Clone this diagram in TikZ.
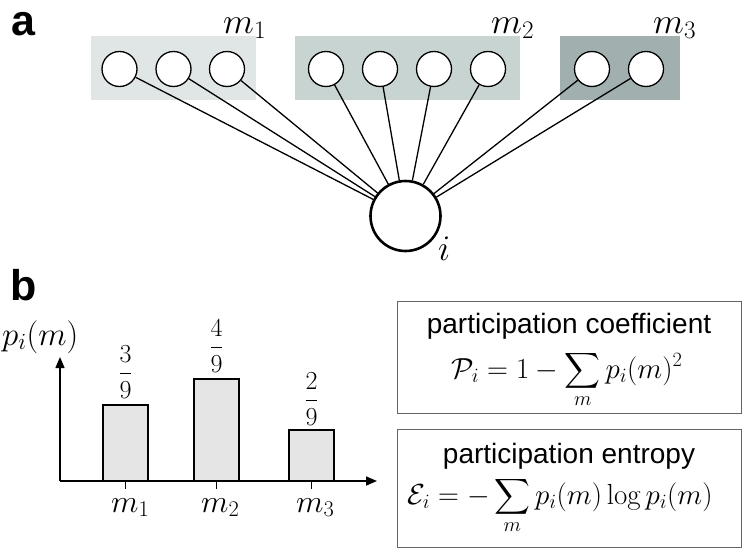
\RequirePackage{fix-cm}
\documentclass[tikz,border=0pt]{standalone}
\usepackage{amsmath}
\usepackage{fontspec}
\setsansfont{Liberation Sans}
\usetikzlibrary{arrows.meta}
\definecolor{modA}{RGB}{223,230,229}
\definecolor{modB}{RGB}{200,212,210}
\definecolor{modC}{RGB}{161,176,175}
\definecolor{barfill}{RGB}{229,229,229}
\definecolor{boxline}{RGB}{100,100,100}
\begin{document}
\begin{tikzpicture}[x=1pt,y=-1pt,
  unit/.style={circle,draw,fill=white,minimum size=35pt,inner sep=0pt,line width=1.3pt},
  hub/.style={circle,draw,fill=white,minimum size=70pt,inner sep=0pt,line width=2.6pt},
  link/.style={line width=1.3pt},
  panel/.style={font=\fontsize{43}{44}\selectfont\sffamily\bfseries,anchor=base west,inner sep=0pt},
  biglbl/.style={font=\fontsize{36}{40}\selectfont,anchor=base west,inner sep=0pt},
  smlbl/.style={font=\fontsize{32}{36}\selectfont,inner sep=0pt},
  fraclbl/.style={font=\fontsize{26}{30}\selectfont,inner sep=0pt},
  axis/.style={line width=1.5pt},
  barstyle/.style={draw,fill=barfill,line width=1.3pt},
  fbox/.style={draw=boxline,line width=1pt,minimum width=344pt,inner sep=0pt},
  ftitle/.style={font=\fontsize{28}{30}\selectfont\sffamily,anchor=base,inner sep=0pt},
  fformula/.style={font=\fontsize{29}{32}\selectfont,anchor=base,inner sep=0pt}]
\useasboundingbox (0,0) rectangle (746,549);
% ---------- panel a ----------
\node[panel] (pa) at (11,35) {a};
\node[fill=modA,minimum width=165pt,minimum height=64pt,inner sep=0pt] (boxA) at (173.5,68) {};
\node[fill=modB,minimum width=225pt,minimum height=64pt,inner sep=0pt] (boxB) at (407.5,68) {};
\node[fill=modC,minimum width=120pt,minimum height=64pt,inner sep=0pt] (boxC) at (620,68) {};
\node[biglbl] (lm1) at (223,33) {$m_1$};
\node[biglbl] (lm2) at (491,33) {$m_2$};
\node[biglbl] (lm3) at (653,33) {$m_3$};
\node[unit] (a1) at (119.5,69) {};
\node[unit] (a2) at (173.5,69) {};
\node[unit] (a3) at (227,69) {};
\node[unit] (b1) at (326,69) {};
\node[unit] (b2) at (380,69) {};
\node[unit] (b3) at (434,69) {};
\node[unit] (b4) at (488,69) {};
\node[unit] (c1) at (592,69) {};
\node[unit] (c2) at (646,69) {};
\node[hub] (hub) at (405.5,216) {};
\node[biglbl] (li) at (438,260) {$i$};
\foreach \n in {a1,a2,a3,b1,b2,b3,b4,c1,c2}
  \draw[link] (\n) -- (hub);
% ---------- panel b ----------
\node[panel] (pb) at (10,300) {b};
\coordinate (O) at (60,481);
\coordinate (xend) at (377,481);
\coordinate (yend) at (60,357);
\draw[barstyle] (103,481) rectangle (148,405);
\draw[barstyle] (194,481) rectangle (239,379);
\draw[barstyle] (289,481) rectangle (334,430);
\draw[axis,-{Triangle[length=11pt,width=9pt]}] (O) -- (xend);
\draw[axis,-{Triangle[length=11pt,width=9pt]}] (O) -- (yend);
\foreach \x in {125.5,216.5,311.5}
  \draw[line width=1.3pt] (\x,481) -- (\x,489);
\node[smlbl,anchor=base west] (x1) at (111,512) {$m_1$};
\node[smlbl,anchor=base west] (x2) at (201,512) {$m_2$};
\node[smlbl,anchor=base west] (x3) at (296,512) {$m_3$};
\node[fraclbl] (f1) at (125.5,372) {$\dfrac{3}{9}$};
\node[fraclbl] (f2) at (216.5,346) {$\dfrac{4}{9}$};
\node[fraclbl] (f3) at (311.5,399) {$\dfrac{2}{9}$};
\node[font=\fontsize{33}{36}\selectfont,inner sep=0pt,anchor=base west] (ylab) at (2,345) {$p_i(m)$};
% formula boxes
\node[fbox,minimum height=112pt] (box1) at (569,357) {};
\node[fbox,minimum height=118pt] (box2) at (569,488) {};
\node[ftitle] (t1) at (569,333) {participation coefficient};
\node[fformula] (e1) at (567,378) {$\displaystyle \mathcal{P}_i = 1-\sum_m p_i(m)^2$};
\node[ftitle] (t2) at (569,463) {participation entropy};
\node[fformula] (e2) at (560,504) {$\displaystyle \mathcal{E}_i = -\sum_m p_i(m)\log p_i(m)$};
\end{tikzpicture}
\end{document}
